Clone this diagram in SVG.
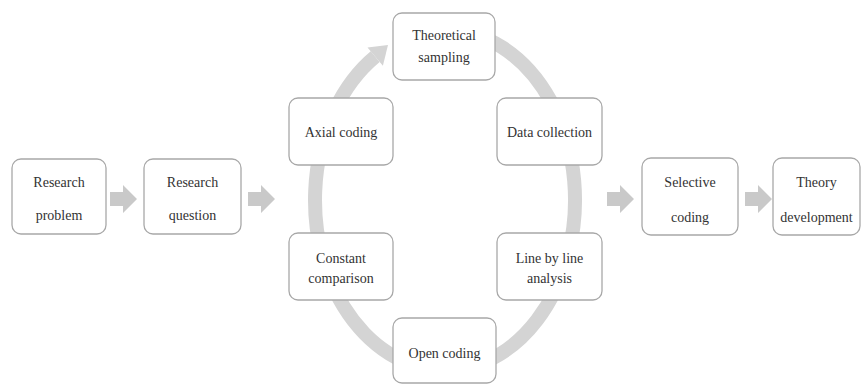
<svg xmlns="http://www.w3.org/2000/svg" width="862" height="385" viewBox="0 0 862 385">
<style>
.box{fill:#fff;stroke:#a8a8a8;stroke-width:1.3}
.t{font-family:'Liberation Serif','Times New Roman','DejaVu Serif',serif;font-size:14px;fill:#333;text-anchor:middle}
.ring{fill:none;stroke:#d4d4d4;stroke-width:14}
.ba{fill:#c9c9c9}
</style>
<defs>
<path id="blk" d="M0 -7 H13 V-14 L27 0 L13 14 V7 H0 Z"/>
</defs>
<g id="connectors">
<path class="ring" d="M445 30 A130 170 0 1 1 375.2 56.6"/>
<polygon fill="#d4d4d4" points="382.9,65.8 367.5,47.4 388,45"/>
<use href="#blk" class="ba" x="110" y="199"/>
<use href="#blk" class="ba" x="248" y="199"/>
<use href="#blk" class="ba" x="607" y="199"/>
<use href="#blk" class="ba" x="745" y="199"/>
</g>
<g id="research-problem"><rect class="box" x="12" y="159" width="94" height="75" rx="9"/><text class="t" x="59" y="187">Research</text><text class="t" x="59" y="220">problem</text></g>
<g id="research-question"><rect class="box" x="144" y="159" width="97" height="75" rx="9"/><text class="t" x="192.5" y="187">Research</text><text class="t" x="192.5" y="220">question</text></g>
<g id="theoretical-sampling"><rect class="box" x="393" y="13" width="102" height="67" rx="9"/><text class="t" x="444" y="40">Theoretical</text><text class="t" x="444" y="62">sampling</text></g>
<g id="axial-coding"><rect class="box" x="289" y="98" width="104" height="67" rx="9"/><text class="t" x="341" y="137">Axial coding</text></g>
<g id="data-collection"><rect class="box" x="497" y="98" width="105" height="67" rx="9"/><text class="t" x="549.5" y="137">Data collection</text></g>
<g id="constant-comparison"><rect class="box" x="289" y="233" width="104" height="67" rx="9"/><text class="t" x="341" y="263">Constant</text><text class="t" x="341" y="283">comparison</text></g>
<g id="line-by-line-analysis"><rect class="box" x="497" y="233" width="105" height="67" rx="9"/><text class="t" x="549.5" y="263">Line by line</text><text class="t" x="549.5" y="283">analysis</text></g>
<g id="open-coding"><rect class="box" x="393" y="318" width="103" height="65" rx="9"/><text class="t" x="444.5" y="358">Open coding</text></g>
<g id="selective-coding"><rect class="box" x="642" y="158" width="96" height="77" rx="9"/><text class="t" x="690" y="187">Selective</text><text class="t" x="690" y="222">coding</text></g>
<g id="theory-development"><rect class="box" x="773" y="158" width="87" height="77" rx="9"/><text class="t" x="816.5" y="187">Theory</text><text class="t" x="816.5" y="222">development</text></g>
</svg>
